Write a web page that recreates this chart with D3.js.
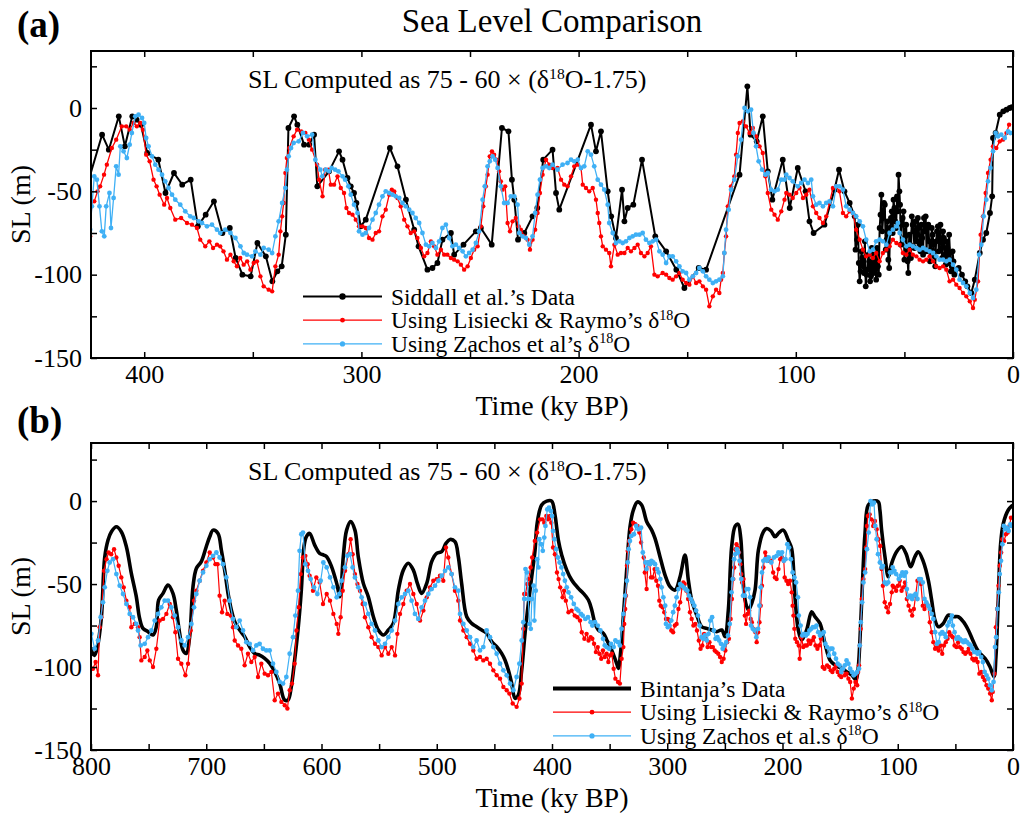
<!DOCTYPE html>
<html><head><meta charset="utf-8">
<script src="https://cdn.jsdelivr.net/npm/d3@7"></script>
<style>body{margin:0;background:#fff} svg text{font-family:"Liberation Serif","Times New Roman",serif;fill:#000}</style>
</head><body><svg id="c" width="1023" height="816"></svg>
<script>
// ---- DATA (age ky BP, sea level m) ----
const siddall = [[428,-54],[419.4,-16],[416.3,-25],[411.7,-5],[408.9,-23],[405.5,-5],[403.5,-7],[401.5,-10],[398.6,-27],[393.5,-31],[390.2,-51],[386.3,-39],[382.5,-46],[378.6,-43],[375.3,-71],[371.7,-64],[367.9,-56],[364,-75],[360.6,-72],[357.9,-90],[354.8,-100],[351,-101],[347.9,-81],[344,-89],[341,-104],[338.7,-98],[336.7,-95],[334.8,-76],[333.6,-12],[331,-5],[329.5,-10],[326.4,-22],[324,-22],[321.8,-16],[320.3,-47],[314.9,-38],[310.3,-26],[308.7,-31],[306.4,-42],[304.9,-47],[303.4,-51],[302.3,-57],[300.3,-71],[298,-67],[286.9,-24],[283.4,-35],[279.5,-55],[275.7,-73],[273.7,-83],[269.6,-97],[267.3,-96],[265,-93],[262.7,-79],[258.8,-75],[257.3,-88],[253,-82],[247.3,-74],[245,-72],[240,-82],[235.3,-12],[232.3,-14],[230.7,-43],[229.6,-55],[227.9,-79],[225,-75],[221.2,-65],[219,-60],[216.3,-31],[212,-25],[210.4,-51],[208.9,-61],[194.3,-10],[192,-26],[189.7,-14],[186.6,-50],[185,-65],[182.8,-78],[180,-49],[178.9,-68],[177.4,-60],[174.8,-58],[170.8,-31],[164.7,-77],[159.7,-86],[155,-97],[151.3,-108],[144.7,-96],[141.3,-97],[125.9,-40],[122.3,13],[120.8,-16],[118,-20],[115.2,-5],[112.9,-38],[110.8,-55],[106,-31],[102.8,-60],[99.1,-36],[95.5,-50],[93.7,-68],[91.8,-75],[86.8,-70],[82.2,-49],[80.1,-37],[77.6,-50],[75.2,-57],[72.9,-65],[71.8,-79],[71,-93],[70.2,-98],[69.4,-90],[68.6,-99],[67.8,-107],[67,-97],[66.2,-92],[65.4,-101],[64.6,-96],[63.8,-88],[63,-103],[62.2,-95],[61.4,-72],[60.6,-52],[59.8,-66],[59,-58],[58.2,-79],[57.4,-91],[56.6,-72],[55.8,-62],[55,-55],[54.2,-68],[53.4,-53],[52.7,-40],[52,-58],[51.2,-70],[50.4,-62],[49.6,-77],[48.8,-85],[48.2,-99],[47.4,-82],[46.6,-65],[45.8,-74],[45,-68],[44.2,-80],[43.4,-72],[42.6,-86],[41.8,-78],[41,-66],[40.2,-65],[39.4,-72],[38.6,-80],[37.8,-85],[37,-76],[36.2,-89],[35.4,-80],[34.6,-71],[33.8,-78],[33,-84],[32.2,-74],[31.4,-88],[30.6,-80],[29.8,-93],[29,-87],[28.2,-95],[27.4,-92],[26.4,-97],[25,-96],[23.5,-100],[22,-104],[21,-107],[19.2,-111],[17.6,-103],[15.3,-87],[13.8,-79],[12.3,-75],[10.6,-63],[9.6,-53],[9.2,-18],[8,-15],[6.1,-4],[4.5,-2],[3,-1],[1.5,0],[0.5,0.5],
[72.5,-85],[71.4,-70],[70.6,-104],[69.8,-86],[69,-95],[68.2,-80],[67.4,-100],[66.6,-88],[65.8,-104],[65,-84],[64.2,-99],[63.4,-93],[62.6,-84],[61.8,-100],[61,-64],[60.2,-74],[59.4,-57],[58.6,-85],[57.8,-68],[57,-96],[56.2,-66],[55.4,-75],[54.6,-60],[53.8,-72],[53,-62],[52.3,-50],[51.6,-82],[50.8,-66],[50,-91],[49.2,-70],[48.5,-92],[47.8,-76],[47,-90],[46.2,-70],[45.4,-84],[44.6,-76],[43.8,-66],[43,-82],[42.2,-70],[41.4,-88],[40.6,-74],[39.8,-86],[39,-70],[38.2,-92],[37.4,-72],[36.6,-82],[35.8,-95],[35,-74],[34.2,-86],[33.4,-70],[32.6,-90],[31.8,-78],[31,-94],[30.2,-84],[29.4,-76],[28.6,-98],[27.8,-86],[27,-100]];

const lisiecki = [[798.3,-101],[796,-97],[793.9,-105],[792.5,-76],[791,-70],[788.7,-42],[786.5,-35],[784.7,-31],[782.5,-32],[780,-29],[778,-34],[776,-39],[773.7,-46],[771.6,-52],[769.3,-60],[766.5,-64],[765,-76],[762,-74],[759.2,-76],[757.8,-82],[756.3,-96],[753.4,-94],[751.1,-90],[749,-96],[746.2,-100],[743.3,-89],[740.4,-72],[737.5,-71],[734.6,-68],[731.7,-62],[728.9,-70],[726.8,-79],[724.5,-95],[721.6,-98],[718.1,-105],[715.8,-98],[713.5,-78],[710.6,-60],[708.6,-54],[705.7,-48],[702.8,-42],[699.9,-37],[697,-31],[694.1,-34],[692,-38],[690.2,-38],[688.4,-57],[686.3,-67],[684,-60],[681.7,-68],[678.8,-69],[676.8,-76],[675.3,-84],[672.4,-87],[669.6,-89],[666.7,-99],[663.8,-92],[660.9,-97],[658,-94],[655.1,-106],[652.2,-98],[649.3,-104],[646.4,-105],[643.5,-103],[640.6,-120],[637.7,-116],[634.8,-121],[631.9,-123],[629.6,-125],[627.6,-114],[625.6,-110],[623.3,-98],[621.8,-78],[619.8,-64],[618.1,-44],[616.1,-34],[614,-33],[612,-38],[610.3,-45],[607.4,-54],[604.5,-46],[601.6,-49],[598.7,-62],[595.5,-56],[592.6,-60],[589.7,-68],[586.8,-74],[585.4,-80],[583.4,-70],[581.6,-54],[579.6,-42],[576.7,-32],[574.7,-23],[573,-32],[571,-44],[568.8,-50],[566.6,-54],[564.3,-62],[562.3,-70],[559.4,-76],[556.5,-82],[553.6,-86],[550.7,-88],[547.8,-93],[544.9,-88],[542,-92],[539.1,-88],[536.2,-93],[534.2,-80],[531.9,-68],[529,-62],[526.1,-54],[523.2,-50],[520.3,-56],[517.4,-62],[514.5,-72],[511.6,-66],[508.7,-58],[505.9,-52],[503,-48],[500.1,-47],[497.2,-45],[494.3,-48],[492,-28],[490,-34],[487.1,-44],[484.2,-54],[481.3,-60],[479.8,-72],[476.9,-78],[474,-82],[471.1,-86],[468.3,-90],[465.4,-95],[462.5,-94],[459.6,-96],[456.7,-95],[453.8,-98],[450.9,-102],[448,-105],[445.1,-107],[442.2,-112],[439.3,-114],[437,-116],[434.1,-122],[430.7,-124],[428.3,-119],[426.3,-110],
[424.9,-77],[424.1,-56],[423,-56],[421.5,-50],[420.3,-47],[418.5,-40],[417.2,-34],[414.9,-24],[412.9,-19],[410.3,-11],[408.3,-11],[406.7,-13],[404.9,-9],[403.4,-11],[401.8,-9],[400.6,-13],[399.1,-28],[397.5,-32],[395.7,-43],[394.3,-47],[392.9,-52],[390.8,-58],[389.5,-54],[388,-60],[385.7,-67],[383,-66],[380.3,-69],[378,-70],[375.7,-72],[374.2,-79],[371.9,-83],[370,-80],[368.3,-84],[366.5,-82],[365,-83],[363.5,-86],[361.9,-91],[360.3,-88],[358.8,-92],[357.3,-95],[355.8,-90],[354.2,-94],[352.6,-92],[351.1,-97],[349.6,-93],[348.1,-92],[346.5,-101],[345,-107],[342.7,-109],[341.1,-110],[339.6,-95],[338.1,-88],[337.3,-74],[336.5,-65],[335.8,-57],[335,-39],[334.3,-30],[333.2,-24],[331.2,-17],[329.6,-13],[327.7,-14],[325.8,-15],[324.2,-19],[322.7,-25],[320.4,-34],[319.5,-43],[317.9,-53],
[316.7,-37],[315.2,-37],[314.1,-46],[312.6,-46],[311,-41],[309.5,-48],[308,-51],[306.9,-60],[305.7,-63],[304.1,-64],[302.6,-67],[301.1,-71],[299.5,-71],[298,-72],[296.5,-78],[294.9,-79],[293.4,-75],[291.9,-74],[290.3,-65],[288.8,-61],[287.2,-52],[286,-49],[284.9,-50],[283.4,-54],[281.9,-59],[280.3,-67],[278.8,-71],[277.3,-75],[275.7,-74],[274.2,-78],[272.6,-84],[271.1,-89],[269.6,-87],[268,-80],[266.5,-83],[265,-88],[263.4,-85],[261.9,-88],[260.4,-88],[258.8,-90],[257.3,-91],[255.7,-92],[254.2,-94],[252.7,-97],[251.1,-95],[249.6,-90],[248.1,-85],[246.5,-83],[245,-71],[243.9,-59],[242.7,-47],[241.9,-40],[240.9,-29],[239.9,-26],[238.9,-28],[237.8,-31],[236.6,-38],[235.8,-44],[235,-49],[233.8,-47],[232.7,-69],[231.6,-74],[230.4,-68],[228.9,-66],[227.6,-71],[226.6,-73],[225,-77],[223.5,-79],[222.4,-85],[221.2,-79],[220,-73],[218.9,-63],[217.8,-51],[216.6,-40],[215,-31],[213.5,-34],[212,-36],
[209.7,-36],[208.1,-43],[206.6,-46],[205.1,-47],[203.5,-41],[202,-35],[200.4,-34],[198.9,-36],[198.1,-46],[196.6,-48],[195.1,-50],[193.5,-48],[192,-55],[191.2,-63],[190.5,-69],[189.7,-77],[188.9,-83],[187.4,-85],[185.9,-87],[185.1,-95],[183.5,-82],[182,-88],[180.5,-87],[178.9,-87],[177.4,-84],[175.9,-86],[174.3,-84],[172.8,-82],[171.3,-87],[169.7,-89],[168.2,-87],[166.7,-83],[165.1,-100],[163.6,-101],[161.3,-99],[159.7,-100],[158.2,-102],[156.7,-103],[155.1,-101],[153.6,-99],[152.1,-103],[150.5,-105],[149,-106],[147.4,-101],[145.9,-105],[144.4,-104],[142.8,-107],[141.3,-109],[139.8,-119],[138.2,-113],[136.7,-109],[135.2,-111],[134.4,-103],[133.6,-99],[132.9,-87],[132.1,-77],[131.3,-59],[129.8,-47],[128.3,-41],[127.5,-28],[126.7,-15],[125.9,-9],[124.4,-8],[122.9,-11],[121.3,-15],[119.8,-12],[118.3,-17],[116.7,-23],[115.2,-27],[114,-41],[112.9,-51],[111.3,-61],[109.8,-64],[108.3,-67],[106.7,-62],[105.2,-55],
[104.4,-51],[102.9,-52],[101.4,-54],[99.8,-51],[98.3,-48],[96.7,-54],[95.2,-52],[93.7,-49],[92.1,-59],[90.6,-63],[89.1,-66],[87.5,-69],[86,-65],[84.5,-57],[82.9,-48],[81.4,-47],[79.9,-50],[78.3,-63],[76.8,-65],[75.2,-62],[73.7,-63],[72.2,-73],[70.6,-79],[69.1,-85],[67.6,-89],[66,-88],[64.5,-90],[63,-87],[61.4,-92],[59.9,-87],[58.3,-85],[56.8,-83],[55.3,-79],[53.7,-81],[52.2,-82],[50.7,-87],[49.1,-88],[47.6,-85],[46.1,-88],[44.5,-89],[43,-91],[41.4,-92],[39.9,-91],[38.4,-89],[36.8,-92],[35.3,-95],[33.8,-96],[32.2,-95],[30.7,-97],[29.2,-104],[27.6,-103],[26.1,-106],[24.6,-108],[23,-111],[21.5,-113],[19.9,-116],[18.4,-120],[17.6,-115],[16.1,-104],[14.9,-76],[13.8,-65],[12.6,-51],[11.5,-39],[10.3,-31],[9.2,-23],[7.7,-24],[6.1,-20],[4.6,-19],[3,-15],[1.8,-10]];

const zachos = [[799.7,-80],[796.8,-89],[793.9,-84],[791.6,-70],[789.6,-61],[788.1,-52],[785.8,-42],[783.8,-37],[780.9,-35],[778,-44],[775.1,-51],[772.2,-56],[769.3,-62],[766.4,-68],[763.6,-70],[760.7,-74],[759.2,-78],[756.9,-87],[753.4,-86],[750.5,-82],[747.6,-78],[744.7,-72],[741.9,-68],[739,-64],[736.1,-60],[733.2,-60],[730.3,-64],[727.4,-69],[724.5,-76],[721.6,-84],[718.7,-87],[715.8,-82],[712.9,-74],[710.6,-64],[708.6,-56],[705.7,-48],[702.8,-43],[699.9,-39],[697,-35],[694.1,-33],[691.2,-31],[688.4,-34],[685.5,-38],[682.6,-46],[679.7,-60],[676.8,-71],[673.9,-76],[671,-72],[668.1,-78],[665.2,-85],[662.3,-86],[659.4,-90],[656.5,-87],[653.7,-86],[650.8,-89],[647.9,-90],[645,-90],[642.1,-98],[639.2,-103],[636.3,-109],[633.4,-110],[630.5,-106],[627.6,-92],[624.7,-82],[622.7,-69],[620.4,-54],[619,-30],[617.5,-20],[616.1,-19],[614,-38],[611.7,-42],[609.4,-47],[606.5,-52],[603.6,-56],[600.7,-48],[598.4,-37],[595.5,-40],[592.6,-46],[589.7,-52],[586.8,-58],[584.5,-56],[582.5,-48],[579.6,-40],[577.6,-33],[575.3,-32],[573,-40],[571,-46],[568.1,-52],[565.2,-58],[562.3,-62],[559.4,-68],[556.5,-74],[553.6,-78],[550.7,-84],[547.8,-88],[544.9,-86],[542,-82],[539.1,-78],[536.2,-72],[533.3,-62],[530.4,-58],[527.5,-56],[524.7,-54],[521.8,-60],[518.9,-68],[516,-71],[513.1,-64],[510.2,-60],[507.3,-56],[504.4,-53],[501.5,-51],[498.6,-48],[495.7,-45],[492.8,-42],[489.9,-40],[487.1,-44],[484.2,-52],[481.3,-54],[479.8,-68],[476.9,-74],[474,-78],[471.1,-82],[468.3,-88],[465.4,-84],[462.5,-90],[459.6,-88],[456.7,-78],[453.8,-82],[450.9,-88],[448,-92],[445.1,-98],[442.2,-102],[439.3,-105],[436.4,-110],[433.5,-114],[430.7,-106],[428.3,-98],[426.3,-84],
[424.9,-73],[424.1,-59],[423,-41],[421.8,-43],[420.6,-59],[419.5,-74],[418.4,-77],[417.5,-59],[416,-51],[415.3,-72],[414.1,-54],[412.9,-35],[411.8,-40],[411,-23],[409.5,-26],[408,-30],[406.7,-22],[405.7,-15],[404.1,-5],[402.6,-4],[401,-6],[400,-9],[399.1,-18],[398,-23],[396.4,-29],[394.9,-34],[393.4,-37],[391.8,-40],[390.3,-44],[388.8,-48],[387.2,-52],[385.7,-55],[383.4,-58],[381.1,-62],[378.8,-65],[377.2,-66],[374.9,-68],[373.4,-69],[371.1,-71],[368.8,-70],[366.5,-73],[365,-75],[362.7,-73],[360.3,-75],[358,-78],[355.7,-83],[354.2,-87],[352.7,-88],[350.4,-89],[348.8,-86],[346.5,-88],[345,-84],[342.7,-85],[341.1,-87],[339.6,-77],[338.1,-68],[336.5,-57],[335,-48],[334.3,-37],[333.5,-29],[332.4,-24],[331.2,-21],[328.9,-20],[326.9,-15],[325,-17],[322.7,-16],[321.2,-31],[318.9,-37],
[318,-41],[316.4,-37],[314.9,-38],[313.7,-36],[312.1,-37],[310.6,-38],[308.7,-41],[307.5,-43],[306,-47],[304.9,-52],[303.4,-58],[301.8,-63],[301.1,-74],[299.5,-76],[298,-75],[296.5,-72],[294.9,-67],[293.4,-63],[291.9,-58],[290.3,-53],[288.8,-50],[287.2,-51],[285.7,-52],[284.2,-53],[282.6,-54],[281.1,-57],[279.6,-59],[278,-61],[276.5,-63],[275,-66],[273.4,-69],[271.9,-75],[270.3,-82],[268.8,-83],[267.3,-81],[265.7,-84],[264.2,-80],[262.7,-72],[261.1,-70],[259.6,-78],[258.1,-83],[256.5,-82],[255,-84],[253.4,-86],[251.9,-89],[250.4,-87],[248.8,-85],[247.3,-81],[245.8,-74],[244.2,-55],[243.2,-47],[241.9,-35],[240.9,-32],[239.6,-29],[238.4,-31],[237.3,-36],[235.8,-47],[234.3,-57],[232.7,-57],[231.2,-53],[229.6,-53],[228.1,-58],[227.3,-75],[225.8,-77],[224.3,-78],[222.7,-82],[221.2,-77],[220,-63],[218.9,-52],[217.8,-43],[216.6,-36],[215,-35],[213.5,-36],
[212,-34],[209.7,-37],[207.4,-34],[205.1,-33],[203.5,-31],[202,-32],[200.4,-31],[198.9,-36],[197.4,-35],[195.8,-26],[194.3,-28],[192.8,-35],[191.2,-43],[189.7,-46],[188.2,-49],[186.6,-58],[185.9,-69],[184.3,-75],[182.8,-81],[181.2,-80],[179.7,-81],[178.2,-80],[176.6,-78],[175.1,-77],[173.6,-76],[172,-76],[170.5,-75],[169,-79],[167.4,-81],[165.9,-80],[164.3,-79],[162.8,-86],[161.3,-88],[159.7,-93],[158.2,-89],[156.7,-89],[155.1,-92],[153.6,-95],[152.1,-98],[150.5,-99],[149,-103],[147.4,-101],[145.9,-99],[144.4,-96],[142.8,-98],[141.3,-101],[139.8,-103],[138.2,-105],[136.7,-104],[135.2,-103],[133.6,-101],[132.9,-87],[132.1,-73],[130.9,-61],[129.8,-49],[128.3,-43],[126.7,-29],[125.2,-19],[123.6,0],[122.1,-2],[120.6,-1],[119.5,-15],[118.3,-23],[117.1,-32],[115.5,-37],[114,-40],[112.9,-39],[111.4,-49],[109.8,-50],[108.3,-49],[106.7,-43],[105.2,-43],
[104.4,-40],[102.9,-42],[101.4,-44],[99.1,-47],[97.5,-45],[96,-43],[94.4,-45],[92.9,-43],[92.1,-53],[90.6,-58],[89.1,-57],[87.5,-59],[86,-57],[84.5,-56],[82.9,-59],[81.4,-47],[79.9,-47],[78.3,-49],[76.8,-59],[75.2,-61],[73.7,-63],[72.2,-65],[70.6,-68],[69.1,-71],[67.6,-79],[66,-86],[64.5,-85],[63,-80],[61.4,-79],[59.9,-80],[58.3,-82],[56.8,-75],[55.3,-73],[53.7,-71],[53,-69],[52.2,-75],[50.7,-79],[49.1,-83],[47.6,-82],[46.1,-83],[44.5,-84],[43,-85],[41.4,-84],[39.9,-85],[38.4,-86],[36.8,-87],[35.3,-89],[33.8,-91],[32.2,-91],[30.7,-92],[29.2,-91],[27.6,-94],[26.1,-97],[24.6,-103],[23,-105],[21.5,-107],[19.9,-111],[18.4,-114],[16.9,-109],[15.6,-88],[14.6,-82],[13.5,-65],[12.3,-55],[11.5,-44],[10.4,-36],[9.2,-26],[8,-15],[6.9,-17],[5.4,-16],[3.8,-18],[2.3,-14],[1.2,-15]];

const bintanja = [[800,-88],[799.7,-90],[797,-93],[794.5,-88],[791,-70],[788.1,-34],[785.2,-23.5],[782.3,-18.5],[778,-15.5],[773.7,-18.5],[769.3,-27.5],[765,-43.6],[760.7,-57.6],[757.8,-70.7],[754.9,-76.7],[750.5,-78.7],[746.2,-80.7],[743.3,-75.7],[741.3,-59.6],[737.5,-55.6],[733.2,-50.6],[728.9,-55.6],[726,-65.7],[723.1,-79.7],[720.2,-89.8],[717.3,-91.8],[714.4,-81.7],[711.5,-51.6],[708.6,-40.6],[704.3,-36.5],[700,-27.5],[697,-21.5],[694.1,-17.5],[689.8,-19.5],[686.9,-29.5],[684,-41.6],[681.1,-55.6],[678.2,-65.7],[675.3,-72.7],[671,-77.7],[666.7,-81.7],[662.3,-87.8],[658,-91.8],[653.7,-92.8],[649.3,-94.8],[645,-97.8],[640.6,-102.8],[636.3,-109.8],[632,-119.9],[629,-119.9],[626.2,-111.8],[623.3,-95.8],[620.4,-77.7],[617.5,-53.6],[615.2,-27.5],[613.2,-21.5],[610.3,-19.5],[605.9,-26.5],[601.6,-31.5],[598,-32.5],[595.5,-33.5],[591.2,-39.6],[586.8,-49.6],[584,-57.6],[581.1,-33.5],[578.2,-17.5],[574.7,-12.4],[571,-17.5],[568.1,-33.5],[563.7,-49.6],[559.4,-57.6],[555,-69.7],[550.7,-77.7],[546.3,-80.7],[542,-77.7],[537.7,-73.7],[533.3,-53.6],[529,-41.6],[524.7,-37.5],[520.3,-41.6],[516.8,-49.6],[513.1,-55.6],[508.7,-49.6],[504.4,-36.5],[500.1,-31.5],[495.7,-30.5],[492,-25.5],[488.5,-23.1],[484.2,-24.5],[481.3,-33.5],[478.4,-49.6],[474,-69.7],[469.7,-73.7],[465.4,-75.7],[461,-77.7],[456.7,-79.7],[452.3,-84.7],[448,-87.8],[443.7,-91.8],[440.8,-95.8],[437.9,-101.8],[435,-109.8],[432.1,-118.9],[429.2,-116.9],[426.3,-101.8],[423.4,-79.7],[420.5,-61.6],[417.6,-45.6],[414.7,-29.5],[412.9,-13.5],[409,-2.4],[404.6,0],[400.3,0],[397.4,-8.4],[394.5,-23.5],[391.6,-32.5],[387.2,-41.6],[382.9,-47.6],[377.1,-52.6],[372.8,-55.6],[368.4,-59.6],[365.5,-65.7],[362.7,-73.7],[359.8,-77.7],[355.4,-79.7],[352.5,-83.7],[348.2,-89.8],[343.9,-97.8],[342.4,-100.8],[340.3,-89.8],[338.1,-69.7],[335.2,-41.6],[332.3,-15.5],[329.4,-5.4],[325.9,-0.5],[322.2,-2.4],[317.8,-12.4],[313.5,-17.5],[310.6,-22.5],[306.3,-33.5],[301.9,-44.6],[297.6,-51.6],[293.2,-53.6],[288.9,-45.6],[284.6,-32.5],[281.7,-47.6],[278.8,-59.6],[274.4,-68.7],[270.1,-75.7],[265.8,-76.7],[261.4,-77.7],[257.1,-78.7],[252.7,-77.7],[249.9,-81.7],[247,-65.7],[244.1,-27.5],[241,-15],[238.5,-14],[236.3,-22],[234.5,-43.6],[232.5,-59.6],[229.6,-65.7],[226.7,-61.6],[223.8,-53.6],[220.9,-29.5],[216.6,-18.5],[213.7,-16.5],[210,-18],[206.5,-21.5],[203,-19],[199.3,-17.5],[195,-23.5],[192.1,-28.5],[189.2,-57.6],[186.3,-77.7],[183.4,-83.7],[179.1,-77.7],[174.7,-66.7],[171.8,-69.7],[167.5,-73.7],[163.2,-85.7],[158.8,-95.8],[154.5,-98.8],[148.7,-100.8],[144.4,-102.8],[140,-104.8],[136.3,-107.8],[134.5,-101.8],[132.8,-83.7],[130.5,-47.6],[128.4,-19.5],[125.6,-2.4],[121.2,0],[116.9,-0.4],[115.5,-5.4],[114,-17.5],[111.1,-33.5],[108.2,-45.6],[105.3,-37.5],[101,-30.5],[96.6,-27.5],[92.9,-31.5],[88.8,-39.6],[85.1,-33.5],[82.2,-30.5],[77.8,-36.5],[73.5,-47.6],[70.6,-59.6],[67.7,-71.7],[64.8,-75.7],[60.5,-73.7],[56.1,-68.7],[51.8,-69.7],[47.5,-69.7],[43.1,-72.7],[38.8,-77.7],[35,-83.7],[31.6,-88.8],[28.7,-91.8],[24.3,-94.8],[20,-99.8],[16.5,-105.8],[14.8,-93.8],[12.8,-59.6],[10.7,-25.5],[8.4,-13.5],[4.1,-5.4],[0.3,-2.4]];

const xMajorA = [400,300,200,100,0];
const xMinorA = [350,250,150,50];
const xMajorB = [800,700,600,500,400,300,200,100,0];
const xMinorB = [750,650,550,450,350,250,150,50];
const yMajor = [0,-50,-100,-150];
const yMinor = [25,-25,-75,-125];

// ---- DRAW ----
const svg = d3.select('#c');
const L = 91, R = 1013;
const RED = '#ff0000', BLUE = '#3fb0f5';
const desc = a => a.slice().sort((p,q)=>q[0]-p[0]);

function supText(sel, parts, size){
  parts.forEach(([t, sup], i) => {
    const ts = sel.append('tspan').text(t);
    if (sup) ts.attr('font-size', size*0.6).attr('dy', -size*0.36);
    else if (i>0 && parts[i-1][1]) ts.attr('dy', size*0.36);
  });
}

function drawPanel(o){
  const x = d3.scaleLinear().domain(o.xDomain).range([L,R]);
  const y = d3.scaleLinear().domain(o.yDomain).range([o.bottom,o.top]);
  const clipId = 'clip'+o.id;
  svg.append('clipPath').attr('id',clipId).append('rect')
    .attr('x',L).attr('y',o.top).attr('width',R-L).attr('height',o.bottom-o.top);
  const plot = svg.append('g').attr('clip-path',`url(#${clipId})`);
  o.series.forEach(s=>{
    const data = desc(s.data);
    const line = d3.line().x(d=>x(d[0])).y(d=>y(d[1]));
    if (s.curve) line.curve(s.curve);
    plot.append('path').datum(data).attr('d',line).attr('fill','none')
      .attr('stroke',s.color).attr('stroke-width',s.width).attr('stroke-linejoin','round');
    if (s.r) plot.append('g').selectAll('circle').data(data).join('circle')
      .attr('cx',d=>x(d[0])).attr('cy',d=>y(d[1])).attr('r',s.r).attr('fill',s.color);
  });

  const styleAxis = g => { g.select('.domain').remove();
    g.selectAll('line').attr('stroke','#000').attr('stroke-width',1.5);
    g.selectAll('text').attr('font-family','"Liberation Serif","Times New Roman",serif').attr('font-size',26).attr('fill','#000');
    g.attr('font-family',null).attr('font-size',null); };
  const fmt = d => String(d);
  svg.append('g').attr('transform',`translate(0,${o.bottom})`)
    .call(d3.axisBottom(x).tickValues(o.xMajor).tickFormat(fmt).tickSize(-6).tickPadding(6.5)).call(styleAxis);
  svg.append('g').attr('transform',`translate(0,${o.bottom})`)
    .call(d3.axisBottom(x).tickValues(o.xMinor).tickFormat('').tickSize(-6)).call(styleAxis);
  svg.append('g').attr('transform',`translate(0,${o.top})`)
    .call(d3.axisTop(x).tickValues(o.xMajor.concat(o.xMinor)).tickFormat('').tickSize(-6)).call(styleAxis);
  svg.append('g').attr('transform',`translate(${L},0)`)
    .call(d3.axisLeft(y).tickValues(yMajor).tickFormat(fmt).tickSize(-6).tickPadding(9)).call(styleAxis);
  svg.append('g').attr('transform',`translate(${L},0)`)
    .call(d3.axisLeft(y).tickValues(yMinor).tickFormat('').tickSize(-6)).call(styleAxis);
  svg.append('g').attr('transform',`translate(${R},0)`)
    .call(d3.axisRight(y).tickValues(yMajor.concat(yMinor)).tickFormat('').tickSize(-6)).call(styleAxis);
  svg.append('rect').attr('x',L).attr('y',o.top).attr('width',R-L).attr('height',o.bottom-o.top)
    .attr('fill','none').attr('stroke','#000').attr('stroke-width',2);

  svg.append('text').attr('x',(L+R)/2).attr('y',o.xTitleY).attr('text-anchor','middle')
    .attr('font-size',28).text('Time (ky BP)');
  svg.append('text').attr('transform',`translate(30,${(o.top+o.bottom)/2}) rotate(-90)`)
    .attr('text-anchor','middle').attr('font-size',28).text('SL (m)');
  svg.append('text').attr('x',17).attr('y',o.labelY).attr('font-size',37).attr('font-weight','bold').text(o.label);
  const ann = svg.append('text').attr('x',248).attr('y',o.top+37).attr('font-size',26);
  supText(ann, [['SL Computed as 75 - 60 \u00d7 (\u03b4',false],['18',true],['O-1.75)',false]], 26);

  o.legend.forEach((it,i)=>{
    const ly = o.top + 245.5 + i*23.7;
    svg.append('line').attr('x1',o.legX1).attr('x2',o.legX2).attr('y1',ly).attr('y2',ly)
      .attr('stroke',it.color).attr('stroke-width',it.width);
    if (it.r) svg.append('circle').attr('cx',(o.legX1+o.legX2)/2).attr('cy',ly).attr('r',it.r).attr('fill',it.color);
    const t = svg.append('text').attr('x',o.legX2+9).attr('y',ly+8).attr('font-size',23.5);
    supText(t, it.parts, 23.5);
  });
}

svg.append('text').attr('x',552).attr('y',32).attr('text-anchor','middle').attr('font-size',33).text('Sea Level Comparison');

drawPanel({
  id:'a', label:'(a)', labelY:37, top:51, bottom:358, xDomain:[424.5,0], yDomain:[-150,34.2],
  xMajor:xMajorA, xMinor:xMinorA, xTitleY:415, legX1:303, legX2:382,
  series:[
    {data:siddall, color:'#000', width:2, r:2.9},
    {data:lisiecki, color:RED, width:1.3, r:2.2},
    {data:zachos, color:BLUE, width:1.3, r:2.4}
  ],
  legend:[
    {color:'#000', width:2, r:3.2, parts:[['Siddall et al.\u2019s Data',false]]},
    {color:RED, width:1.3, r:2.4, parts:[['Using Lisiecki & Raymo\u2019s \u03b4',false],['18',true],['O',false]]},
    {color:BLUE, width:1.3, r:2.6, parts:[['Using Zachos et al\u2019s \u03b4',false],['18',true],['O',false]]}
  ]
});

drawPanel({
  id:'b', label:'(b)', labelY:433, top:443, bottom:750, xDomain:[800,0], yDomain:[-150,35],
  xMajor:xMajorB, xMinor:xMinorB, xTitleY:807, legX1:553, legX2:631,
  series:[
    {data:bintanja, color:'#000', width:3.6, r:0, curve:d3.curveCatmullRom.alpha(0.5)},
    {data:lisiecki, color:RED, width:1.2, r:2.2},
    {data:zachos, color:BLUE, width:1.2, r:2.4}
  ],
  legend:[
    {color:'#000', width:4, r:0, parts:[['Bintanja\u2019s Data',false]]},
    {color:RED, width:1.3, r:2.4, parts:[['Using Lisiecki & Raymo\u2019s \u03b4',false],['18',true],['O',false]]},
    {color:BLUE, width:1.3, r:2.6, parts:[['Using Zachos et al.s \u03b4',false],['18',true],['O',false]]}
  ]
});
</script></body></html>
